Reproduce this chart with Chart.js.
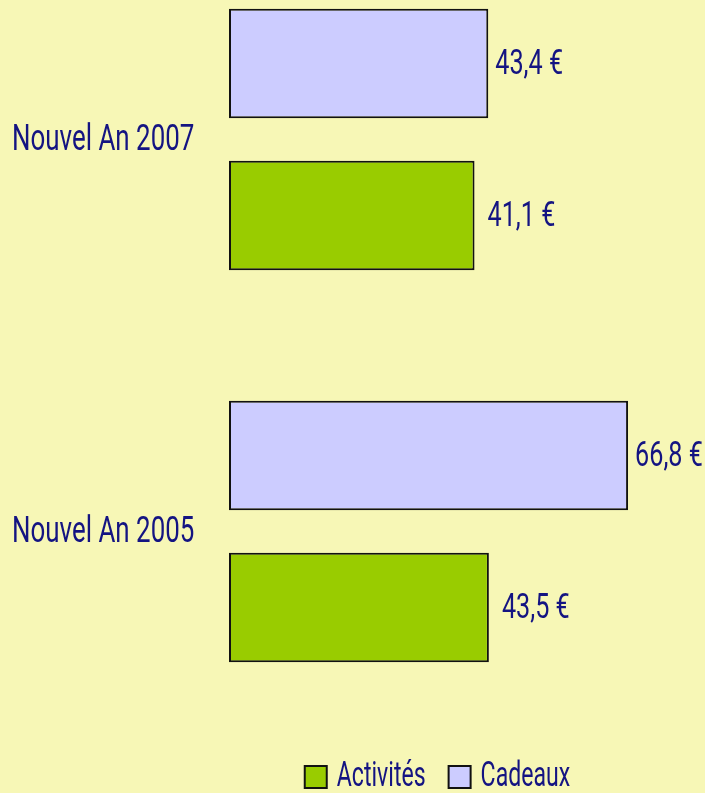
<!DOCTYPE html>
<html>
<head>
<meta charset="utf-8">
<script src="https://cdn.jsdelivr.net/npm/chart.js@4.4.1/dist/chart.umd.min.js"></script>
<style>
  body { margin: 0; background: #f7f7b6; }
  canvas { display: block; }
</style>
</head>
<body>
<canvas id="chart" width="705" height="793"></canvas>
<script>
const categories = ["Nouvel An 2007", "Nouvel An 2005"];
const cadeaux = [43.4, 66.8];
const activites = [41.1, 43.5];

const NAVY = "#141482";
const FONT = "Roboto, 'Liberation Sans', sans-serif";

// the original uses a very narrow typeface, so text is squeezed horizontally
// x is the left edge, returns drawn width
function narrowText(ctx, text, x, y, size, squeeze) {
  ctx.save();
  ctx.font = size + "px " + FONT;
  ctx.fillStyle = NAVY;
  ctx.textAlign = "left";
  ctx.textBaseline = "middle";
  ctx.translate(x, y);
  ctx.scale(squeeze, 1);
  ctx.fillText(text, 0, 0);
  const w = ctx.measureText(text).width * squeeze;
  ctx.restore();
  return w;
}

function narrowWidth(ctx, text, size, squeeze) {
  ctx.save();
  ctx.font = size + "px " + FONT;
  const w = ctx.measureText(text).width * squeeze;
  ctx.restore();
  return w;
}

const textPlugin = {
  id: "textPlugin",
  afterDatasetsDraw(chart, args, opts) {
    const ctx = chart.ctx;
    const y = chart.scales.y;

    // category labels
    chart.data.labels.forEach((lab, i) => {
      narrowText(ctx, lab, y.left, y.getPixelForTick(i) + 1, 36, 0.72);
    });

    // value labels
    chart.data.datasets.forEach((ds, i) => {
      const meta = chart.getDatasetMeta(i);
      meta.data.forEach((bar, j) => {
        const txt = ds.data[j].toFixed(1).replace(".", ",") + " €";
        narrowText(ctx, txt, bar.x + opts.gap[i], bar.y + 2, 35, 0.72);
      });
    });

    // legend, in reverse dataset order, centred under the plot
    const items = chart.data.datasets.slice().reverse();
    const box = 22, gapText = 10, gapItem = 23;
    let total = 0;
    items.forEach((ds, k) => {
      total += box + gapText + narrowWidth(ctx, ds.label, 35, 0.66);
      if (k < items.length - 1) total += gapItem;
    });
    const area = chart.chartArea;
    let x = (area.left + area.right) / 2 - total / 2;
    const ly = chart.height - opts.legendBottom;
    items.forEach((ds) => {
      ctx.save();
      ctx.fillStyle = ds.backgroundColor;
      ctx.strokeStyle = ds.borderColor;
      ctx.lineWidth = 2;
      ctx.fillRect(x, ly - box / 2, box, box);
      ctx.strokeRect(x, ly - box / 2, box, box);
      ctx.restore();
      x += box + gapText;
      x += narrowText(ctx, ds.label, x, ly, 35, 0.66) + gapItem;
    });
  },
};

new Chart(document.getElementById("chart"), {
  type: "bar",
  data: {
    labels: categories,
    datasets: [
      {
        label: "Cadeaux",
        data: cadeaux,
        backgroundColor: "#ccccff",
        borderColor: "#111111",
        borderWidth: 2,
        borderSkipped: false,
        clip: false,
      },
      {
        label: "Activités",
        data: activites,
        backgroundColor: "#99cc00",
        borderColor: "#111111",
        borderWidth: 2,
        borderSkipped: false,
        clip: false,
      },
    ],
  },
  options: {
    indexAxis: "y",
    responsive: false,
    animation: false,
    categoryPercentage: 0.7755,
    barPercentage: 0.72,
    layout: {
      padding: { left: 12, right: 59, top: 139.5, bottom: 261.5 },
    },
    scales: {
      x: {
        display: false,
        min: 0,
        max: 69.8,
      },
      y: {
        offset: false,
        grid: { display: false },
        border: { display: false },
        ticks: { display: false },
        afterFit(scale) {
          scale.width = 217;
        },
      },
    },
    plugins: {
      tooltip: { enabled: false },
      legend: { display: false },
      textPlugin: { gap: [7, 13], legendBottom: 16 },
    },
  },
  plugins: [textPlugin],
});
</script>
</body>
</html>
